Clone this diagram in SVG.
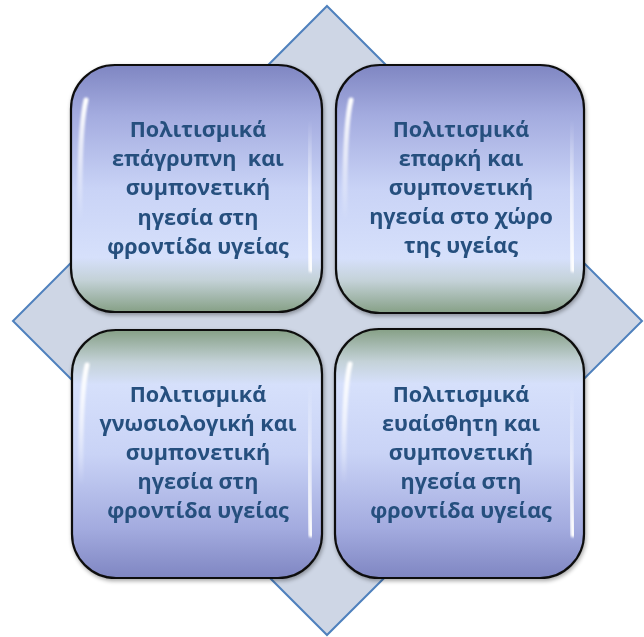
<svg xmlns="http://www.w3.org/2000/svg" width="644" height="637" viewBox="0 0 644 637">
<defs>
<linearGradient id="gTop" x1="0" y1="0" x2="0" y2="1">
<stop offset="0" stop-color="#7f86c2"/>
<stop offset="0.2" stop-color="#a3abdf"/>
<stop offset="0.5" stop-color="#c9d3f6"/>
<stop offset="0.78" stop-color="#d6e0fb"/>
<stop offset="0.87" stop-color="#c4d2d8"/>
<stop offset="1" stop-color="#86a086"/>
</linearGradient>
<linearGradient id="gBot" x1="0" y1="1" x2="0" y2="0">
<stop offset="0" stop-color="#7f86c2"/>
<stop offset="0.2" stop-color="#a3abdf"/>
<stop offset="0.5" stop-color="#c9d3f6"/>
<stop offset="0.78" stop-color="#d6e0fb"/>
<stop offset="0.87" stop-color="#c4d2d8"/>
<stop offset="1" stop-color="#86a086"/>
</linearGradient>
<linearGradient id="hl" x1="0" y1="0" x2="0" y2="1">
<stop offset="0" stop-color="#fff" stop-opacity="1"/>
<stop offset="0.5" stop-color="#fff" stop-opacity="0.6"/>
<stop offset="1" stop-color="#fff" stop-opacity="0"/>
</linearGradient>
<filter id="blur" x="-50%" y="-10%" width="200%" height="120%"><feGaussianBlur stdDeviation="1.2"/></filter>
<filter id="sh" x="-10%" y="-10%" width="120%" height="120%"><feGaussianBlur in="SourceAlpha" stdDeviation="2"/><feOffset dx="1" dy="2"/><feComponentTransfer><feFuncA type="linear" slope="0.35"/></feComponentTransfer><feMerge><feMergeNode/><feMergeNode in="SourceGraphic"/></feMerge></filter>
</defs>
<style>
.box{stroke:#111;stroke-width:2.2}
.t{font-family:"Open Sans","Noto Sans","Liberation Sans",sans-serif;font-weight:bold;font-size:21.6px;fill:#25507e;text-anchor:middle;white-space:pre}
.gl{fill:none;stroke:url(#hl);stroke-width:5;stroke-linecap:round;filter:url(#blur)}
</style>
<g id="diamond">
<polygon points="327,6 642,321 327,635 13,321" fill="#ced6e5" stroke="#4f81bd" stroke-width="2"/>
</g>
<g id="connectors"></g>
<g id="n1" filter="url(#sh)">
<rect class="box" x="71" y="65" width="251" height="247" rx="44" fill="url(#gTop)"/>
<path class="gl" d="M86,100 Q79,130 80,220"/>
<path class="gl" d="M309,120 Q312,180 310,270" transform="rotate(180 310 195)"/>
<text class="t" x="198" y="137">Πολιτισμικά</text>
<text class="t" x="198" y="166" xml:space="preserve">επάγρυπνη  και</text>
<text class="t" x="198" y="195">συμπονετική</text>
<text class="t" x="198" y="225">ηγεσία στη</text>
<text class="t" x="198" y="254">φροντίδα υγείας</text>
</g>
<g id="n2" filter="url(#sh)">
<rect class="box" x="336" y="65" width="248" height="248" rx="44" fill="url(#gTop)"/>
<path class="gl" d="M351,100 Q344,130 345,220"/>
<path class="gl" d="M571,120 Q574,180 572,270" transform="rotate(180 572 195)"/>
<text class="t" x="461" y="137">Πολιτισμικά</text>
<text class="t" x="461" y="166">επαρκή και</text>
<text class="t" x="461" y="195">συμπονετική</text>
<text class="t" x="461" y="224">ηγεσία στο χώρο</text>
<text class="t" x="461" y="253">της υγείας</text>
</g>
<g id="n3" filter="url(#sh)">
<rect class="box" x="72" y="330" width="250" height="248" rx="44" fill="url(#gBot)"/>
<path class="gl" d="M87,365 Q80,395 81,485"/>
<path class="gl" d="M309,385 Q312,445 310,535" transform="rotate(180 310 460)"/>
<text class="t" x="198" y="402">Πολιτισμικά</text>
<text class="t" x="198" y="431">γνωσιολογική και</text>
<text class="t" x="198" y="460">συμπονετική</text>
<text class="t" x="198" y="489">ηγεσία στη</text>
<text class="t" x="198" y="518">φροντίδα υγείας</text>
</g>
<g id="n4" filter="url(#sh)">
<rect class="box" x="335" y="329" width="249" height="249" rx="44" fill="url(#gBot)"/>
<path class="gl" d="M350,364 Q343,394 344,484"/>
<path class="gl" d="M571,385 Q574,445 572,535" transform="rotate(180 572 460)"/>
<text class="t" x="461" y="402">Πολιτισμικά</text>
<text class="t" x="461" y="431">ευαίσθητη και</text>
<text class="t" x="461" y="460">συμπονετική</text>
<text class="t" x="461" y="489">ηγεσία στη</text>
<text class="t" x="461" y="518">φροντίδα υγείας</text>
</g>
</svg>
